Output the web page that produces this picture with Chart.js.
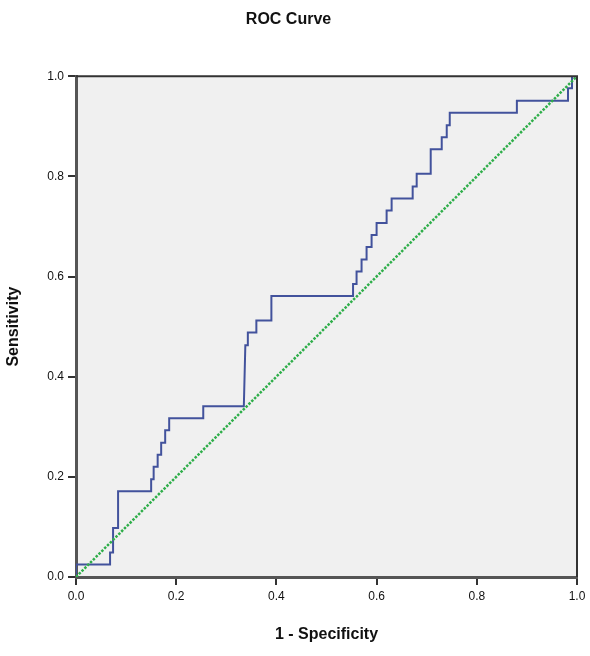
<!DOCTYPE html>
<html>
<head>
<meta charset="utf-8">
<script src="https://cdn.jsdelivr.net/npm/chart.js@4.4.1/dist/chart.umd.min.js"></script>
<style>
  html, body { margin: 0; padding: 0; background: #ffffff; }
  #wrap { width: 590px; height: 656px; position: relative; }
</style>
</head>
<body>
<div id="wrap"><canvas id="c" width="590" height="656"></canvas></div>
<script>
// ROC curve vertices (1 - Specificity, Sensitivity)
const rocFpr = [0, 0, 0.068, 0.068, 0.074, 0.074, 0.084, 0.084, 0.150, 0.150, 0.155, 0.155, 0.163, 0.163, 0.170, 0.170, 0.178, 0.178, 0.186, 0.186, 0.254, 0.254, 0.335, 0.338, 0.343, 0.343, 0.360, 0.360, 0.390, 0.390, 0.553, 0.553, 0.560, 0.560, 0.570, 0.570, 0.580, 0.580, 0.590, 0.590, 0.600, 0.600, 0.620, 0.620, 0.630, 0.630, 0.672, 0.672, 0.680, 0.680, 0.708, 0.708, 0.730, 0.730, 0.740, 0.740, 0.746, 0.746, 0.880, 0.880, 0.982, 0.982, 0.990, 0.990, 1.0];
const rocTpr = [0, 0.025, 0.025, 0.049, 0.049, 0.098, 0.098, 0.171, 0.171, 0.195, 0.195, 0.220, 0.220, 0.244, 0.244, 0.268, 0.268, 0.293, 0.293, 0.317, 0.317, 0.341, 0.341, 0.463, 0.463, 0.488, 0.488, 0.512, 0.512, 0.561, 0.561, 0.585, 0.585, 0.610, 0.610, 0.634, 0.634, 0.659, 0.659, 0.683, 0.683, 0.707, 0.707, 0.732, 0.732, 0.756, 0.756, 0.780, 0.780, 0.805, 0.805, 0.854, 0.854, 0.878, 0.878, 0.902, 0.902, 0.927, 0.927, 0.951, 0.951, 0.976, 0.976, 1.0, 1.0];
// Reference line
const refX = [0, 1];
const refY = [0, 1];
const tickValues = [0, 0.2, 0.4, 0.6, 0.8, 1.0];
const chartTitle = 'ROC Curve';
const xTitle = '1 - Specificity';
const yTitle = 'Sensitivity';

const rocData = rocFpr.map((x, i) => ({x: x, y: rocTpr[i]}));
const refData = refX.map((x, i) => ({x: x, y: refY[i]}));

const plotBg = {
  id: 'plotBg',
  beforeDraw(chart) {
    const {ctx, chartArea: a} = chart;
    ctx.save();
    ctx.fillStyle = '#f0f0f0';
    ctx.fillRect(a.left, a.top, a.right - a.left, a.bottom - a.top);
    ctx.restore();
  },
  afterDatasetsDraw(chart) {
    const {ctx, chartArea: a} = chart;
    ctx.save();
    ctx.strokeStyle = '#333333';
    ctx.lineWidth = 2;
    ctx.beginPath();
    ctx.moveTo(a.left, a.top);
    ctx.lineTo(a.right, a.top);
    ctx.lineTo(a.right, a.bottom);
    ctx.stroke();
    ctx.restore();
  }
};

const fontFam = '"Liberation Sans", Arial, sans-serif';

new Chart(document.getElementById('c'), {
  type: 'scatter',
  data: {
    datasets: [
      {
        data: refData,
        showLine: true,
        borderColor: '#2fae4a',
        borderWidth: 2.5,
        borderDash: [2.5, 1.5],
        pointRadius: 0,
        fill: false
      },
      {
        data: rocData,
        showLine: true,
        borderColor: '#42529c',
        borderWidth: 2,
        pointRadius: 0,
        fill: false
      }
    ]
  },
  plugins: [plotBg],
  options: {
    responsive: false,
    animation: false,
    layout: { padding: { left: 0, right: 13, top: 0, bottom: 0 } },
    plugins: {
      legend: { display: false },
      tooltip: { enabled: false },
      title: {
        display: true,
        text: chartTitle,
        color: '#111',
        font: { family: fontFam, size: 16, weight: 'bold' },
        padding: { top: 10, bottom: 47 }
      }
    },
    scales: {
      x: {
        type: 'linear',
        min: 0, max: 1,
        afterBuildTicks: s => { s.ticks = tickValues.map(v => ({value: v})); },
        afterFit: s => { s.height = 79; },
        grid: { drawOnChartArea: false, drawTicks: true, tickLength: 8, color: '#333', lineWidth: 2 },
        border: { display: true, color: '#555', width: 3 },
        ticks: {
          color: '#111', padding: 4,
          font: { family: fontFam, size: 12 },
          callback: v => Number(v).toFixed(1)
        },
        title: {
          display: true, text: xTitle, color: '#111',
          font: { family: fontFam, size: 16, weight: 'bold' },
          padding: { top: 0, bottom: 12 }
        }
      },
      y: {
        type: 'linear',
        min: 0, max: 1,
        afterBuildTicks: s => { s.ticks = tickValues.map(v => ({value: v})); },
        afterFit: s => { s.width = 76; },
        grid: { drawOnChartArea: false, drawTicks: true, tickLength: 8, color: '#333', lineWidth: 2 },
        border: { display: true, color: '#555', width: 3 },
        ticks: {
          color: '#111', padding: 4,
          font: { family: fontFam, size: 12 },
          callback: v => Number(v).toFixed(1)
        },
        title: {
          display: true, text: yTitle, color: '#111',
          font: { family: fontFam, size: 16, weight: 'bold' },
          padding: { top: 4, bottom: 0 }
        }
      }
    }
  }
});
</script>
</body>
</html>
